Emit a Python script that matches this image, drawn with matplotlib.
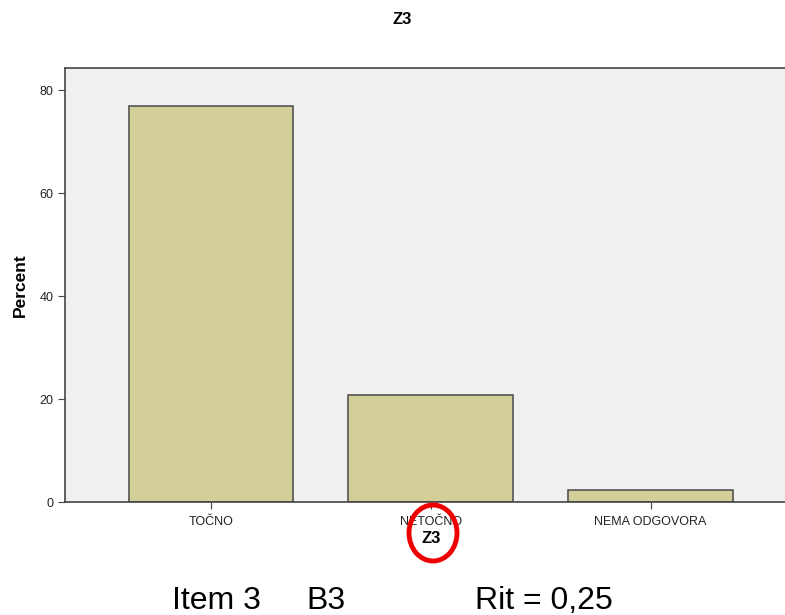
import matplotlib.pyplot as plt
from matplotlib.patches import Ellipse

plt.rcParams['font.family'] = ['Liberation Sans', 'DejaVu Sans']

categories = ["TOČNO", "NETOČNO", "NEMA ODGOVORA"]
percent = [76.9, 20.8, 2.3]

fig = plt.figure(figsize=(7.85, 6.15), dpi=100)
ax = fig.add_axes([0.0828, 0.1837, 0.932, 0.7057])
ax.set_facecolor("#f0f0f0")

x = range(len(categories))
ax.bar(x, percent, width=0.75, color="#d3cf98", edgecolor="#555555", linewidth=1.2)

ax.set_xlim(-0.664, 2.664)
ax.set_ylim(0, 84.3)
ax.set_yticks([0, 20, 40, 60, 80])
ax.set_xticks(list(x))
ax.set_xticklabels(categories)
ax.tick_params(axis="both", labelsize=9, color="#444444", labelcolor="#222222", length=5)
ax.tick_params(axis="x", pad=5)
for s in ax.spines.values():
    s.set_color("#444444")
    s.set_linewidth(1.2)

ax.set_ylabel("Percent", fontsize=12.5, fontweight="bold", labelpad=8)
ax.set_xlabel("Z3", fontsize=12, fontweight="bold", labelpad=2)
fig.text(0.512, 0.968, "Z3", ha="center", va="center", fontsize=12, fontweight="bold")

# red circle highlight around the x label
circ = Ellipse((433 / 785, 1 - 533 / 615), 48 / 785, 56 / 615,
               transform=fig.transFigure, fill=False, edgecolor="#ee0000", linewidth=3.5)
fig.patches.append(circ)

by = 1 - 609 / 615
fig.text(172 / 785, by, "Item 3", ha="left", va="baseline", fontsize=23)
fig.text(306 / 785, by, "B3", ha="left", va="baseline", fontsize=23)
fig.text(475 / 785, by, "Rit = 0,25", ha="left", va="baseline", fontsize=23)

fig.savefig("out.png", dpi=100)
